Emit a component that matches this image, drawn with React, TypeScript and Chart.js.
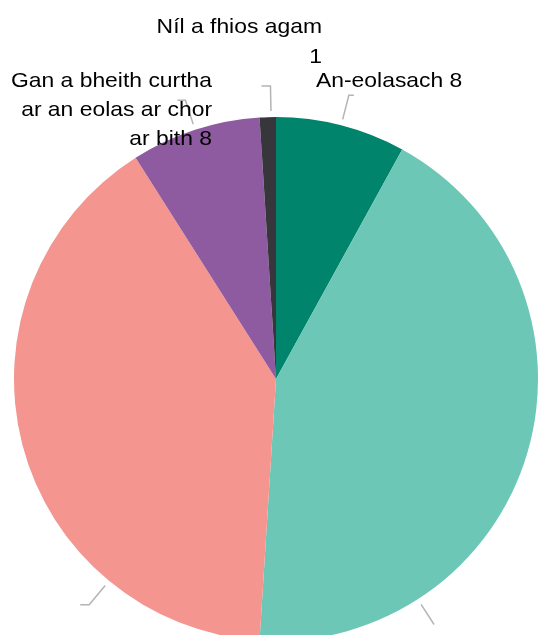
import React, { useEffect, useRef } from "react";
import { Chart, registerables } from "chart.js";

Chart.register(...registerables);

const categories = [
  "An-eolasach",
  "Eolasach",
  "Measartha eolasach",
  "Gan a bheith curtha ar an eolas ar chor ar bith",
  "Níl a fhios agam",
];
const values = [8, 43, 40, 8, 1];
const colors = ["#00846c", "#6cc7b7", "#f49590", "#8e5ba0", "#36363b"];

// label styling per slice (null = label falls outside the visible picture)
const labelStyles: any[] = [
  { align: "left", x: 316, y: 87, maxW: 1000, lh: 29 },
  null,
  null,
  { align: "right", x: 212, y: 87, maxW: 212, lh: 29 },
  { align: "right", x: 322, y: 33, maxW: 175, lh: 30 },
];
// leader line: fraction along the slice, horizontal tail direction
const leaderStyles = [
  { frac: 0.5, tail: 5, len: 25 },
  { frac: 0.765, tail: 0, len: 24 },
  { frac: 0.25, tail: -9, len: 25 },
  { frac: 0.5, tail: -8, len: 25 },
  { frac: 0.7, tail: -9, len: 25 },
];

const FONT_SIZE = 21;
const SCALE_X = 1.09;

const labelPlugin = {
  id: "pieLabels",
  afterDatasetsDraw(chart: any) {
    const ctx = chart.ctx;
    const meta = chart.getDatasetMeta(0);
    ctx.save();
    // leaders
    meta.data.forEach((arc: any, i: number) => {
      const st = leaderStyles[i];
      if (!st) return;
      const { x, y, outerRadius, startAngle, endAngle } = arc.getProps(
        ["x", "y", "outerRadius", "startAngle", "endAngle"],
        true
      );
      const a = startAngle + st.frac * (endAngle - startAngle);
      const r1 = outerRadius + 6;
      const r2 = outerRadius + 6 + st.len;
      const x1 = x + Math.cos(a) * r1;
      const y1 = y + Math.sin(a) * r1;
      const x2 = x + Math.cos(a) * r2;
      const y2 = y + Math.sin(a) * r2;
      ctx.strokeStyle = "#b4b4b4";
      ctx.lineWidth = 1.5;
      ctx.beginPath();
      ctx.moveTo(x1, y1);
      ctx.lineTo(x2, y2);
      if (st.tail) ctx.lineTo(x2 + st.tail, y2);
      ctx.stroke();
    });
    // labels
    ctx.font = `${FONT_SIZE}px "Liberation Sans", Arial, sans-serif`;
    ctx.fillStyle = "#000000";
    ctx.textBaseline = "alphabetic";
    categories.forEach((cat, i) => {
      const st = labelStyles[i];
      if (!st) return;
      const words = `${cat} ${values[i]}`.split(" ");
      const lines: string[] = [];
      let cur = "";
      words.forEach((w) => {
        const test = cur ? cur + " " + w : w;
        if (ctx.measureText(test).width * SCALE_X > st.maxW && cur) {
          lines.push(cur);
          cur = w;
        } else {
          cur = test;
        }
      });
      if (cur) lines.push(cur);
      lines.forEach((line, li) => {
        ctx.save();
        ctx.translate(st.x, st.y + li * st.lh);
        ctx.scale(SCALE_X, 1);
        ctx.textAlign = st.align;
        ctx.fillText(line, 0, 0);
        ctx.restore();
      });
    });
    ctx.restore();
  },
};

export default function App() {
  const ref = useRef<HTMLCanvasElement>(null);
  useEffect(() => {
    document.body.style.margin = "0";
    document.body.style.overflow = "hidden";
    const chart = new Chart(ref.current!, {
      type: "pie",
      data: {
        labels: categories,
        datasets: [
          {
            data: values,
            backgroundColor: colors,
            borderWidth: 0,
          },
        ],
      },
      options: {
        responsive: false,
        animation: false,
        devicePixelRatio: 1,
        layout: { padding: { left: 14, right: 2, top: 117, bottom: 39 } },
        plugins: {
          legend: { display: false },
          tooltip: { enabled: false },
        },
      },
      plugins: [labelPlugin],
    });
    return () => chart.destroy();
  }, []);
  return (
    <div style={{ width: 540, height: 635, overflow: "hidden", background: "#fff" }}>
      <canvas ref={ref} width={540} height={680} style={{ display: "block" }} />
    </div>
  );
}
